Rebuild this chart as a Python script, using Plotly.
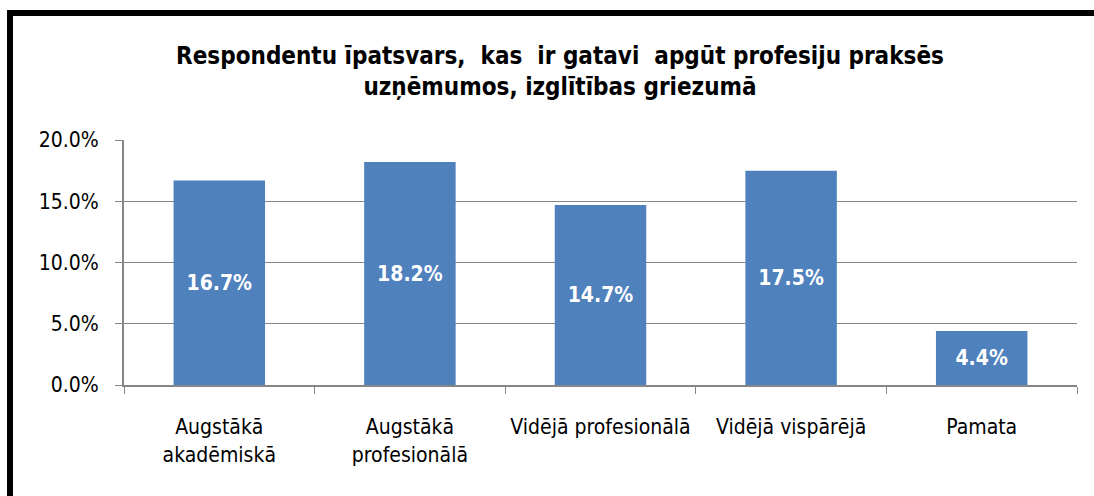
import plotly.graph_objects as go

categories = ["Augstākā<br>akadēmiskā", "Augstākā<br>profesionālā", "Vidējā profesionālā", "Vidējā vispārējā", "Pamata"]
values = [16.7, 18.2, 14.7, 17.5, 4.4]
tick_vals = [0, 5, 10, 15, 20]
tick_text = ["0.0%", "5.0%", "10.0%", "15.0%", "20.0%"]
title_text = "Respondentu īpatsvars,  kas  ir gatavi  apgūt profesiju praksēs<br>uzņēmumos, izglītības griezumā"

FONT = "DejaVu Sans Condensed, Liberation Sans Narrow, Arial Narrow, sans-serif"

fig = go.Figure()
fig.add_trace(go.Bar(
    x=categories, y=values,
    marker=dict(color="#4F81BD", line=dict(width=0)),
    text=[f"<b>{v:.1f}%</b>" for v in values],
    textposition="inside", insidetextanchor="middle",
    textfont=dict(color="white", size=21, family=FONT),
    textangle=0,
    hoverinfo="skip",
))

fig.update_layout(
    width=1094, height=496,
    paper_bgcolor="white", plot_bgcolor="white",
    margin=dict(l=124, r=17, t=140, b=111),
    bargap=0.52,
    showlegend=False,
    font=dict(family=FONT, color="black"),
    title=dict(text="<b>" + title_text + "</b>", x=560/1094, xanchor="center",
               y=1 - 64/496, yanchor="middle", xref="container", yref="container",
               font=dict(size=24, family=FONT, color="black")),
    uniformtext=dict(minsize=8, mode="show"),
)
fig.update_yaxes(
    range=[0, 20], tickvals=tick_vals, ticktext=tick_text,
    showgrid=True, gridcolor="#868686", gridwidth=1,
    showline=True, linecolor="#868686", linewidth=2,
    ticks="outside", ticklen=7, tickcolor="#868686",
    ticklabelstandoff=12,
    tickfont=dict(size=21, family=FONT, color="black"),
    zeroline=False, fixedrange=True,
)
fig.update_xaxes(
    showline=True, linecolor="#868686", linewidth=2,
    ticks="outside", tickson="boundaries", ticklen=7, tickcolor="#868686",
    ticklabelstandoff=22,
    tickfont=dict(size=21, family=FONT, color="black"),
    showgrid=False, fixedrange=True,
)
# outer chart border (top and left visible)
fig.add_shape(type="rect", xref="paper", yref="paper",
              x0=(10 - 124) / 953, x1=(1130 - 124) / 953,
              y0=(385 - 560) / 245, y1=(385 - 13) / 245,
              line=dict(color="black", width=6), fillcolor="rgba(0,0,0,0)", layer="above")

fig.write_html("out.html", config={"displayModeBar": False},
               post_script="document.body.style.margin='0';document.body.style.overflow='hidden';")
